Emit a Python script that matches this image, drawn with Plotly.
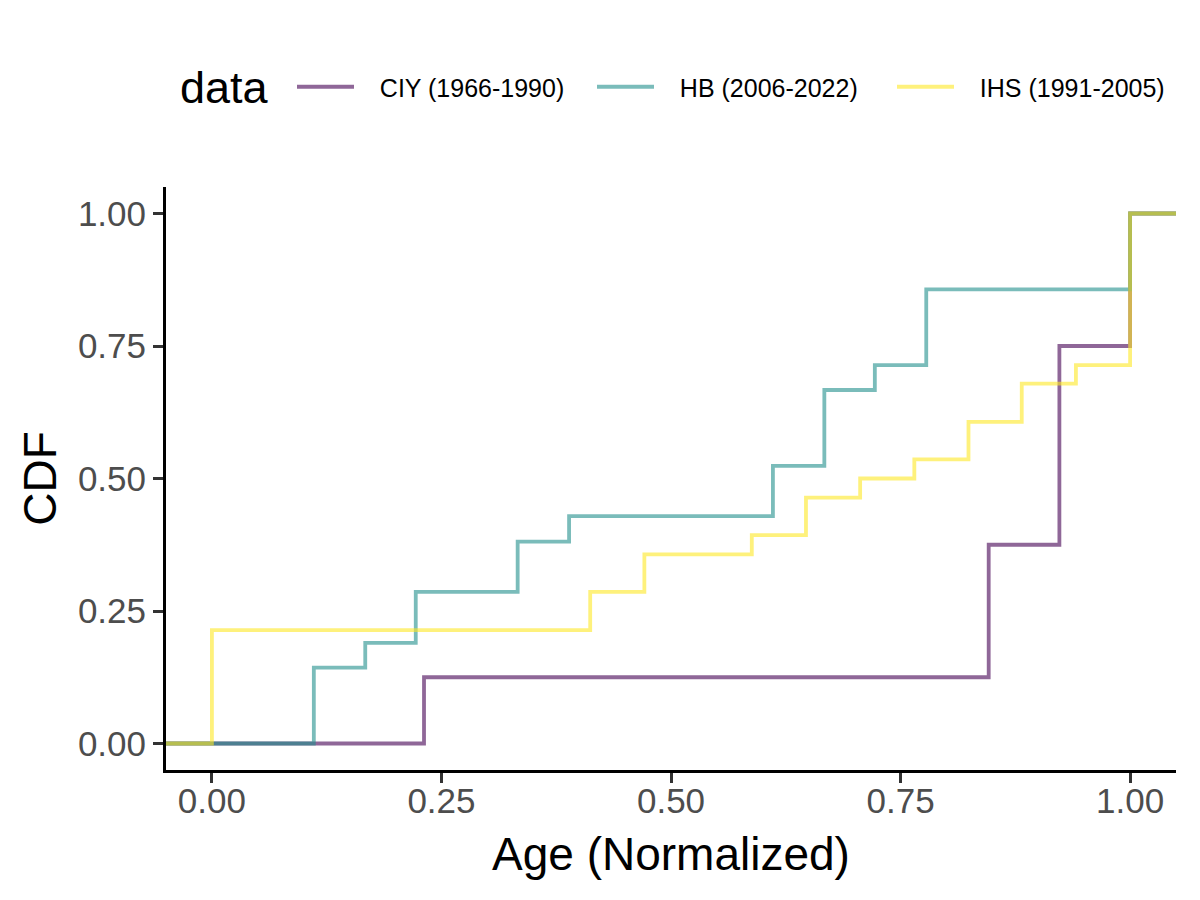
import plotly.graph_objects as go

# Series: step positions (normalized age) and CDF value after each step
series_names = ["CIY (1966-1990)", "HB (2006-2022)", "IHS (1991-2005)"]

ciy_x = [0.231, 0.846, 0.923, 1.000]
ciy_cdf = [0.125, 0.375, 0.750, 1.000]

hb_x = [0.111, 0.167, 0.222, 0.333, 0.389, 0.611, 0.667, 0.722, 0.778, 1.000]
hb_cdf = [0.143, 0.190, 0.286, 0.381, 0.429, 0.524, 0.667, 0.714, 0.857, 1.000]

ihs_x = [0.000, 0.412, 0.471, 0.588, 0.647, 0.706, 0.765, 0.824, 0.882, 0.941, 1.000]
ihs_cdf = [0.214, 0.286, 0.357, 0.393, 0.464, 0.500, 0.536, 0.607, 0.679, 0.714, 1.000]

tick_vals = [0.0, 0.25, 0.5, 0.75, 1.0]
tick_text = ["0.00", "0.25", "0.50", "0.75", "1.00"]

legend_title = "data"

colors = ["rgba(68,1,84,0.6)", "rgba(33,144,140,0.6)", "rgba(253,231,37,0.6)"]

x_range = [-0.05, 1.05]
y_range = [-0.05, 1.05]

NB = "\u00a0"

fig = go.Figure()
for name, xs, cs, col in zip(series_names, [ciy_x, hb_x, ihs_x], [ciy_cdf, hb_cdf, ihs_cdf], colors):
    # ECDF padded to the panel limits, as stat_ecdf does
    px = [x_range[0]] + list(xs) + [x_range[1]]
    py = [0.0] + list(cs) + [cs[-1]]
    fig.add_trace(go.Scatter(
        x=px, y=py, mode="lines", name=NB * 3 + name,
        line=dict(color=col, width=3.8, shape="hv"),
    ))

font_family = "Liberation Sans, Arial, sans-serif"

fig.update_layout(
    width=1200, height=900,
    paper_bgcolor="white", plot_bgcolor="white",
    margin=dict(l=158, r=32, t=179, b=138),
    font=dict(family=font_family, color="black"),
    showlegend=True,
    legend=dict(
        orientation="h",
        xref="container", yref="container",
        x=284 / 1200, y=1 - 79 / 900,
        xanchor="left", yanchor="middle",
        font=dict(size=25, color="black"),
        itemwidth=57,
        entrywidth=228,
        bgcolor="rgba(0,0,0,0)",
    ),
    annotations=[dict(
        text=legend_title, xref="paper", yref="paper",
        x=(170 - 158) / 1010, y=1 + (179 - 79) / 583,
        xanchor="left", yanchor="middle", showarrow=False,
        font=dict(size=45, color="black"),
    )],
)

axis_common = dict(
    showgrid=False, zeroline=False,
    showline=True, linecolor="black", linewidth=3,
    ticks="outside", ticklen=10, tickwidth=3, tickcolor="#333333",
    tickfont=dict(size=35, color="#4D4D4D"),
    tickvals=tick_vals, ticktext=tick_text,
)

fig.update_xaxes(range=x_range, title=dict(text="Age (Normalized)", font=dict(size=46, color="black"), standoff=19),
                 ticklabelstandoff=-12, **axis_common)
fig.update_yaxes(range=y_range, title=dict(text="CDF", font=dict(size=46, color="black"), standoff=7), **axis_common)

fig.write_html("out.html")
